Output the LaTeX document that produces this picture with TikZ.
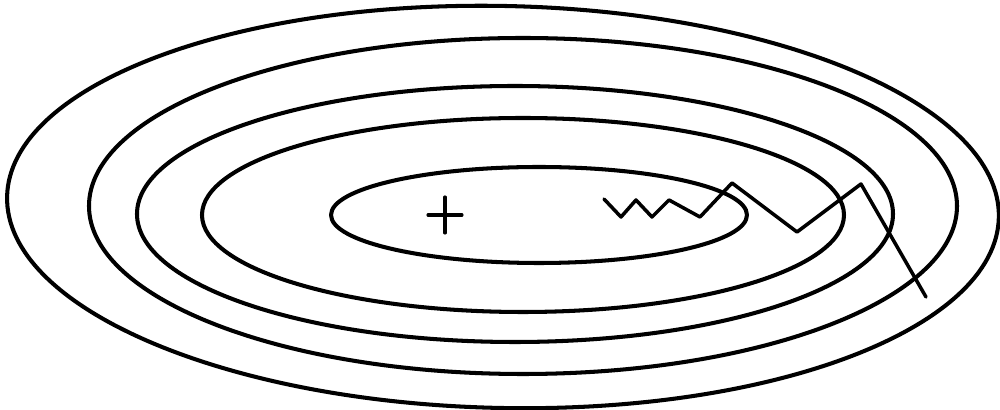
\documentclass[tikz,border=0pt]{standalone}
\usetikzlibrary{calc}
\begin{document}
\begin{tikzpicture}[line cap=round,line join=round,x=0.1mm,y=-0.1mm]

\useasboundingbox (0,0) rectangle (1000,410);

% level curves (centres)
\coordinate (C1) at (503,207);
\coordinate (C2) at (523,206);
\coordinate (C3) at (515,214);
\coordinate (C4) at (523,215);
\coordinate (C5) at (539,215);

\draw[line width=1.15pt,rotate around={-1.2:(C1)}] (C1) ellipse [x radius=496,y radius=201];
\draw[line width=1.15pt] (C2) ellipse [x radius=434,y radius=168];
\draw[line width=1.15pt] (C3) ellipse [x radius=378,y radius=128];
\draw[line width=1.15pt] (C4) ellipse [x radius=321,y radius=97];
\draw[line width=1.15pt] (C5) ellipse [x radius=208,y radius=48];

% minimum mark
\coordinate (M) at (445,215);
\draw[line width=0.9pt] ($(M)+(-17,0)$) -- ($(M)+(17,0)$);
\draw[line width=0.9pt] ($(M)+(0,-18)$) -- ($(M)+(0,18)$);

% descent path
\coordinate (P1) at (604,199);
\coordinate (P2) at (621,217);
\coordinate (P3) at (636,200);
\coordinate (P4) at (652,217);
\coordinate (P5) at (669,200);
\coordinate (P6) at (700,217);
\coordinate (P7) at (732,183);
\coordinate (P8) at (797,232);
\coordinate (P9) at (861,184);
\coordinate (P10) at (926,297);

\draw[line width=1pt] (P10)--(P9)--(P8)--(P7)--(P6)--(P5)--(P4)--(P3)--(P2)--(P1);

\end{tikzpicture}
\end{document}
